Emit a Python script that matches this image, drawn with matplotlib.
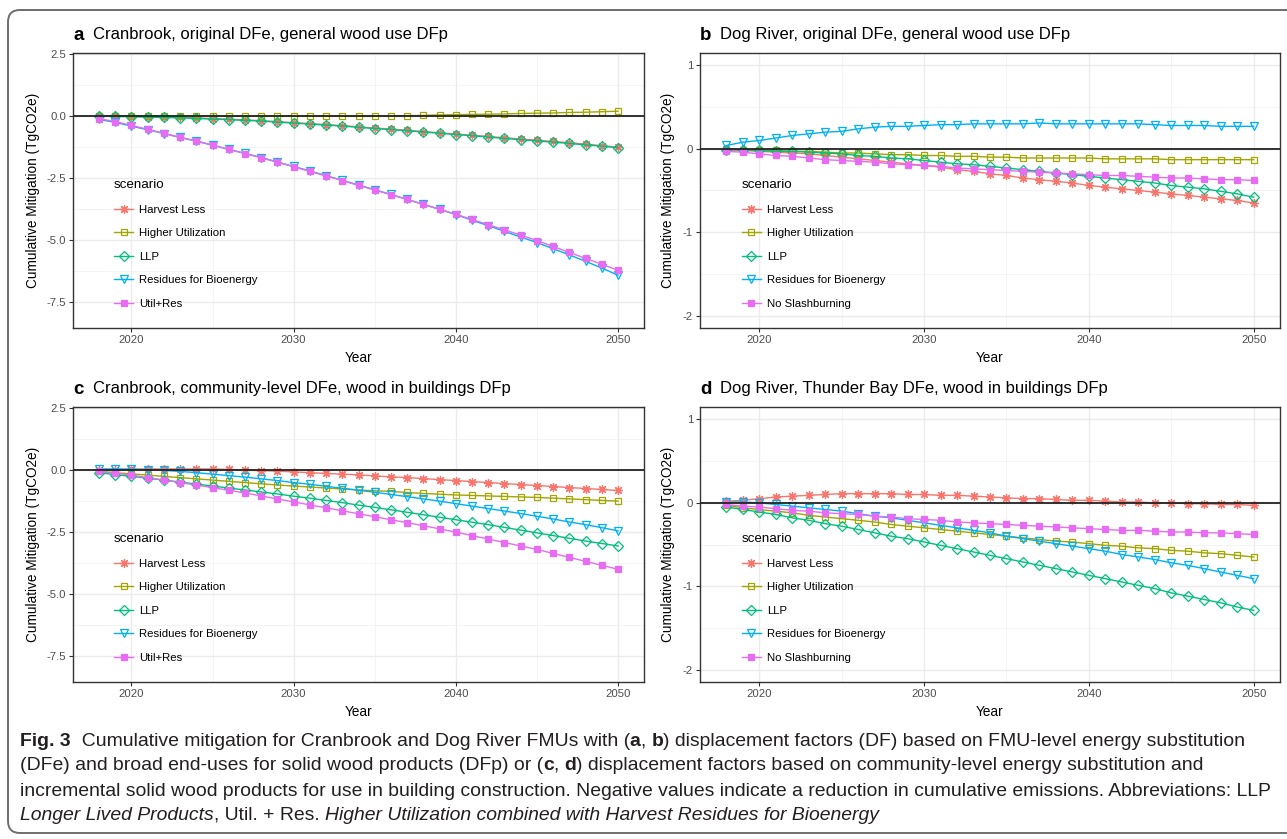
# Cumulative mitigation, four FMU panels (ggplot-like look)

import numpy as np
import matplotlib.pyplot as plt
from matplotlib.lines import Line2D
from matplotlib.patches import FancyBboxPatch
from matplotlib.transforms import IdentityTransform

W, H = 1287, 839

years = np.arange(2018, 2051)

# panel a - Cranbrook, original DFe, general wood use DFp
a_harvest_less = [0.02, 0.01, 0.0, -0.02, -0.03, -0.05, -0.07, -0.1, -0.12, -0.15, -0.18, -0.22,
                  -0.26, -0.3, -0.34, -0.38, -0.43, -0.48, -0.52, -0.57, -0.62, -0.67, -0.72, -0.77,
                  -0.82, -0.87, -0.92, -0.97, -1.02, -1.07, -1.13, -1.19, -1.25]
a_higher_util = [0.01, 0.01, 0.01, 0.01, 0.0, 0.0, 0.0, 0.0, 0.0, 0.0, 0.0, 0.0, 0.0, 0.0, 0.0,
                 0.0, 0.0, 0.0, 0.01, 0.02, 0.03, 0.05, 0.06, 0.07, 0.08, 0.09, 0.11, 0.12, 0.13,
                 0.15, 0.16, 0.18, 0.2]
a_llp = [0.0, -0.01, -0.02, -0.04, -0.05, -0.07, -0.09, -0.12, -0.14, -0.17, -0.2, -0.24, -0.28,
         -0.32, -0.36, -0.4, -0.45, -0.5, -0.54, -0.59, -0.64, -0.69, -0.74, -0.79, -0.84, -0.9,
         -0.95, -1.0, -1.05, -1.1, -1.16, -1.21, -1.28]
a_residues = [-0.13, -0.25, -0.4, -0.55, -0.7, -0.86, -1.01, -1.17, -1.34, -1.5, -1.67, -1.85,
              -2.03, -2.21, -2.4, -2.59, -2.78, -2.97, -3.16, -3.36, -3.56, -3.76, -3.97, -4.2,
              -4.42, -4.65, -4.88, -5.1, -5.35, -5.6, -5.86, -6.13, -6.42]
a_util_res = [-0.1, -0.22, -0.37, -0.53, -0.69, -0.85, -1.0, -1.17, -1.34, -1.51, -1.68, -1.86,
              -2.04, -2.23, -2.41, -2.6, -2.79, -2.98, -3.17, -3.36, -3.56, -3.76, -3.96, -4.17,
              -4.38, -4.59, -4.8, -5.02, -5.26, -5.5, -5.74, -5.98, -6.22]

# panel b - Dog River, original DFe, general wood use DFp
b_harvest_less = [-0.01, -0.02, -0.03, -0.04, -0.05, -0.06, -0.08, -0.1, -0.12, -0.14, -0.16,
                  -0.18, -0.2, -0.22, -0.25, -0.27, -0.3, -0.32, -0.35, -0.37, -0.39, -0.41, -0.44,
                  -0.46, -0.48, -0.5, -0.52, -0.54, -0.56, -0.58, -0.6, -0.62, -0.65]
b_higher_util = [0.0, -0.01, -0.02, -0.02, -0.03, -0.03, -0.04, -0.05, -0.05, -0.06, -0.07, -0.07,
                 -0.08, -0.08, -0.09, -0.09, -0.1, -0.1, -0.11, -0.11, -0.11, -0.11, -0.11, -0.12,
                 -0.12, -0.12, -0.12, -0.13, -0.13, -0.13, -0.13, -0.13, -0.13]
b_llp = [-0.01, -0.01, -0.02, -0.03, -0.03, -0.04, -0.05, -0.06, -0.08, -0.09, -0.11, -0.12, -0.14,
         -0.16, -0.18, -0.19, -0.21, -0.23, -0.25, -0.27, -0.29, -0.31, -0.33, -0.35, -0.37,
         -0.39, -0.41, -0.44, -0.46, -0.48, -0.51, -0.54, -0.58]
b_residues = [0.04, 0.08, 0.1, 0.13, 0.16, 0.18, 0.2, 0.21, 0.24, 0.26, 0.27, 0.27, 0.28, 0.29,
              0.29, 0.3, 0.3, 0.3, 0.3, 0.31, 0.3, 0.3, 0.3, 0.3, 0.3, 0.3, 0.29, 0.28, 0.28,
              0.28, 0.27, 0.27, 0.27]
b_no_slash = [-0.03, -0.04, -0.06, -0.08, -0.09, -0.11, -0.13, -0.14, -0.15, -0.16, -0.18, -0.19,
              -0.2, -0.21, -0.23, -0.24, -0.25, -0.26, -0.27, -0.28, -0.29, -0.3, -0.31, -0.32,
              -0.32, -0.33, -0.34, -0.35, -0.35, -0.36, -0.37, -0.37, -0.38]

# panel c - Cranbrook, community-level DFe, wood in buildings DFp
c_harvest_less = [0.0, 0.02, 0.04, 0.05, 0.05, 0.05, 0.05, 0.05, 0.03, 0.0, -0.02, -0.04, -0.07,
                  -0.1, -0.13, -0.16, -0.19, -0.23, -0.27, -0.3, -0.34, -0.38, -0.42, -0.46, -0.5,
                  -0.54, -0.58, -0.62, -0.66, -0.7, -0.74, -0.78, -0.82]
c_higher_util = [-0.05, -0.1, -0.15, -0.2, -0.25, -0.3, -0.35, -0.4, -0.45, -0.5, -0.55, -0.6,
                 -0.64, -0.68, -0.72, -0.76, -0.8, -0.83, -0.86, -0.9, -0.94, -0.97, -1.0, -1.02,
                 -1.04, -1.06, -1.08, -1.1, -1.13, -1.16, -1.19, -1.22, -1.25]
c_llp = [-0.1, -0.18, -0.25, -0.32, -0.4, -0.48, -0.56, -0.64, -0.72, -0.8, -0.88, -0.96, -1.05,
         -1.13, -1.22, -1.31, -1.41, -1.5, -1.6, -1.7, -1.8, -1.9, -2.0, -2.1, -2.2, -2.31, -2.42,
         -2.53, -2.64, -2.75, -2.86, -2.96, -3.06]
c_residues = [0.05, 0.05, 0.04, 0.02, -0.01, -0.05, -0.1, -0.16, -0.22, -0.28, -0.35, -0.42,
              -0.5, -0.57, -0.65, -0.73, -0.81, -0.89, -0.98, -1.07, -1.16, -1.25, -1.35, -1.45,
              -1.55, -1.65, -1.75, -1.86, -1.97, -2.09, -2.2, -2.32, -2.45]
c_util_res = [-0.05, -0.12, -0.2, -0.3, -0.4, -0.5, -0.6, -0.7, -0.81, -0.92, -1.04, -1.16, -1.28,
              -1.4, -1.52, -1.64, -1.76, -1.88, -2.0, -2.12, -2.24, -2.37, -2.5, -2.64, -2.78,
              -2.92, -3.06, -3.2, -3.36, -3.52, -3.68, -3.84, -4.0]

# panel d - Dog River, Thunder Bay DFe, wood in buildings DFp
d_harvest_less = [0.02, 0.03, 0.05, 0.07, 0.08, 0.09, 0.1, 0.11, 0.11, 0.11, 0.11, 0.1, 0.1, 0.09,
                  0.09, 0.08, 0.07, 0.06, 0.05, 0.05, 0.04, 0.03, 0.03, 0.02, 0.01, 0.01, 0.0, 0.0,
                  -0.01, -0.01, -0.02, -0.02, -0.03]
d_higher_util = [-0.03, -0.06, -0.08, -0.1, -0.12, -0.15, -0.17, -0.19, -0.21, -0.23, -0.26,
                 -0.28, -0.3, -0.32, -0.34, -0.36, -0.38, -0.4, -0.42, -0.44, -0.46, -0.47, -0.49,
                 -0.51, -0.52, -0.54, -0.55, -0.57, -0.58, -0.6, -0.61, -0.63, -0.65]
d_llp = [-0.05, -0.08, -0.11, -0.14, -0.18, -0.21, -0.25, -0.28, -0.32, -0.36, -0.4, -0.43, -0.47,
         -0.51, -0.55, -0.59, -0.63, -0.67, -0.71, -0.75, -0.79, -0.83, -0.87, -0.91, -0.95,
         -0.99, -1.03, -1.08, -1.12, -1.16, -1.2, -1.25, -1.29]
d_residues = [0.01, 0.01, 0.0, -0.02, -0.04, -0.06, -0.08, -0.1, -0.13, -0.16, -0.18, -0.21, -0.24,
              -0.27, -0.3, -0.33, -0.36, -0.4, -0.43, -0.46, -0.49, -0.52, -0.55, -0.58, -0.62,
              -0.65, -0.68, -0.72, -0.75, -0.79, -0.83, -0.87, -0.91]
d_no_slash = [-0.02, -0.04, -0.05, -0.07, -0.09, -0.1, -0.12, -0.13, -0.14, -0.16, -0.17, -0.19,
              -0.2, -0.21, -0.23, -0.24, -0.25, -0.26, -0.27, -0.28, -0.29, -0.3, -0.31, -0.32,
              -0.33, -0.33, -0.34, -0.35, -0.35, -0.36, -0.36, -0.37, -0.38]

labels_cran = ["Harvest Less", "Higher Utilization", "LLP", "Residues for Bioenergy", "Util+Res"]
labels_dog = ["Harvest Less", "Higher Utilization", "LLP", "Residues for Bioenergy", "No Slashburning"]

colors = ["#F8766D", "#A3A500", "#00BF7D", "#00B0F6", "#E76BF3"]
markers = [(8, 2, 0), "s", "D", "v", "s"]
msizes = [6.5, 5, 5, 6, 4.8]
filled = [True, False, False, False, True]

yt_big = [2.5, 0, -2.5, -5, -7.5]
yt_big_lab = ["2.5", "0.0", "-2.5", "-5.0", "-7.5"]
yt_small = [1, 0, -1, -2]
yt_small_lab = ["1", "0", "-1", "-2"]

fig = plt.figure(figsize=(W / 100, H / 100), dpi=100)
plt.rcParams['font.family'] = ['Liberation Sans', 'DejaVu Sans']


def px(l, t, r, b):
    return [l / W, 1 - b / H, (r - l) / W, (b - t) / H]


def style(i):
    kw = dict(color=colors[i], marker=markers[i], markersize=msizes[i], lw=1.0,
              markeredgewidth=0.9)
    if filled[i]:
        kw["markerfacecolor"] = colors[i]
    else:
        kw["markerfacecolor"] = "none"
    return kw


def panel(box, data, labels, yt, ytl, ylim, letter, title):
    ax = fig.add_axes(px(*box))
    ax.set_xlim(2016.4, 2051.6)
    ax.set_ylim(*ylim)
    ax.set_xticks([2020, 2030, 2040, 2050])
    ax.set_xticks([2025, 2035, 2045], minor=True)
    ax.set_yticks(yt)
    ax.set_yticklabels(ytl)
    mids = [(yt[k] + yt[k + 1]) / 2 for k in range(len(yt) - 1)]
    ax.set_yticks(mids, minor=True)
    ax.grid(which="major", color="#ebebeb", lw=1.0)
    ax.grid(which="minor", color="#f2f2f2", lw=0.6)
    ax.set_axisbelow(True)
    ax.tick_params(which="major", length=3, width=0.8, color="#333333", labelsize=8.2,
                   labelcolor="#4d4d4d", pad=2)
    ax.tick_params(which="minor", length=0)
    for s in ax.spines.values():
        s.set_color("#333333")
        s.set_linewidth(1.0)
    for i, vals in enumerate(data):
        ax.plot(years, vals, **style(i), zorder=2)
    ax.axhline(0, color="#222222", lw=1.3, zorder=3)
    ax.set_xlabel("Year", fontsize=9.8, color="black")
    ax.set_ylabel("Cumulative Mitigation (TgCO2e)", fontsize=9.8)
    lpx = box[0]
    ax.xaxis.set_label_coords(0.5, -(351 - 328) / 275)
    ax.yaxis.set_label_coords((40 - 73) / 571 if lpx < 300 else (675 - 700) / 580, 0.5)
    handles = [Line2D([], [], **style(i)) for i in range(len(labels))]
    ax.legend(handles, labels, title="scenario", loc="upper left",
              bbox_to_anchor=(0.072, 0.542), frameon=False, fontsize=8.2,
              title_fontsize=9.6, handlelength=1.7, handletextpad=0.5,
              labelspacing=1.19, borderpad=0, borderaxespad=0, alignment="left")
    fig.text((box[0]) / W, 1 - (box[1] - 18) / H, letter, fontsize=13.5, fontweight="bold",
             va="center", ha="left")
    fig.text((box[0] + 20) / W, 1 - (box[1] - 18) / H, title, fontsize=12,
             va="center", ha="left")
    return ax


panel((73, 53, 644, 328), [a_harvest_less, a_higher_util, a_llp, a_residues, a_util_res],
      labels_cran, yt_big, yt_big_lab, (-8.55, 2.55), "a",
      "Cranbrook, original DFe, general wood use DFp")
panel((700, 53, 1280, 328), [b_harvest_less, b_higher_util, b_llp, b_residues, b_no_slash],
      labels_dog, yt_small, yt_small_lab, (-2.15, 1.15), "b",
      "Dog River, original DFe, general wood use DFp")
panel((73, 407, 644, 682), [c_harvest_less, c_higher_util, c_llp, c_residues, c_util_res],
      labels_cran, yt_big, yt_big_lab, (-8.55, 2.55), "c",
      "Cranbrook, community-level DFe, wood in buildings DFp")
panel((700, 407, 1280, 682), [d_harvest_less, d_higher_util, d_llp, d_residues, d_no_slash],
      labels_dog, yt_small, yt_small_lab, (-2.15, 1.15), "d",
      "Dog River, Thunder Bay DFe, wood in buildings DFp")

# outer rounded frame
frame = FancyBboxPatch((8, H - 833), 1320, 823, boxstyle="round,pad=0,rounding_size=12",
                       transform=IdentityTransform(), fill=False, edgecolor="#6e6e6e", lw=1.4)
fig.patches.append(frame)

# caption with mixed font styles
CAP_FONT = ["Liberation Sans", "DejaVu Sans"]
CAP_SIZE = 13.95


def caption_line(x, y, parts):
    r = fig.canvas.get_renderer()
    for txt, st in parts:
        kw = dict(fontsize=CAP_SIZE, family=CAP_FONT, va="center", ha="left", color="#231f20")
        if st == "b":
            kw["fontweight"] = "bold"
        if st == "i":
            kw["fontstyle"] = "italic"
        fig.text(x / W, 1 - y / H, txt, **kw)
        m1 = fig.text(0, 0, "|" + txt + "|", **kw)
        m2 = fig.text(0, 0, "||", **kw)
        w = m1.get_window_extent(r).width - m2.get_window_extent(r).width
        m1.remove()
        m2.remove()
        x += w


caption_line(20, 742, [("Fig. 3", "b"),
                       ("  Cumulative mitigation for Cranbrook and Dog River FMUs with (", "n"),
                       ("a", "b"), (", ", "n"), ("b", "b"),
                       (") displacement factors (DF) based on FMU-level energy substitution", "n")])
caption_line(20, 766, [("(DFe) and broad end-uses for solid wood products (DFp) or (", "n"),
                       ("c", "b"), (", ", "n"), ("d", "b"),
                       (") displacement factors based on community-level energy substitution and", "n")])
caption_line(20, 791, [("incremental solid wood products for use in building construction. Negative "
                        "values indicate a reduction in cumulative emissions. Abbreviations: LLP", "n")])
caption_line(20, 815, [("Longer Lived Products", "i"), (", Util. + Res. ", "n"),
                       ("Higher Utilization combined with Harvest Residues for Bioenergy", "i")])

fig.savefig("out.png", dpi=100)
